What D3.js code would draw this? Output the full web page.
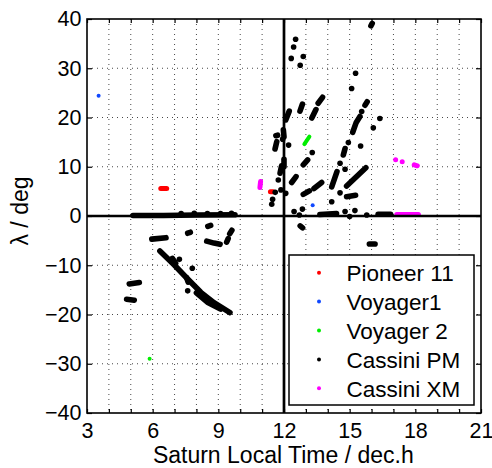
<!DOCTYPE html>
<html><head><meta charset="utf-8">
<script src="https://cdn.jsdelivr.net/npm/d3@7"></script>
<style>body{margin:0;background:#fff}</style>
</head><body><svg id="c" width="492" height="468"></svg>
<script>
// ---- data ----
const seriesNames = ["Pioneer 11", "Voyager1", "Voyager 2", "Cassini PM", "Cassini XM"];
const seriesColors = ["#ff0000", "#1048ff", "#00ee00", "#000000", "#ff00ff"];
const xTicks = [3, 6, 9, 12, 15, 18, 21];
const yTicks = [-40, -30, -20, -10, 0, 10, 20, 30, 40];

// each pass = list of [local time (h), latitude (deg)]
const pioneer11 = [[[6.37,5.6],[6.64,5.6]], [[11.38,4.9],[11.5,4.9]]];
const voyager1 = [[[3.53,24.4]], [[13.31,2.2]]];
const voyager2 = [[[5.86,-29.0]], [[12.93,14.6],[13.16,16.1]]];
const cassiniXM = [[[10.9,5.8],[10.93,7.0]], [[17.1,11.4]], [[17.4,11.0]], [[17.95,10.4],[18.09,10.2]], [[17.15,0.3],[18.14,0.3]]];
const cassiniPM = [
 [[5.1,0.1],[6.5,0.1],[8.0,0.2],[9.76,0.25]],
 [[7.3,0.5]],[[7.9,0.55]],[[8.5,0.5]],[[9.1,0.5]],[[9.6,0.55]],
 [[5.96,-4.7],[6.61,-4.4]],
 [[7.6,-3.5],[7.72,-3.3]],
 [[8.52,-2.1],[8.65,-1.9]],
 [[8.47,-5.1],[8.8,-5.5],[9.08,-5.75]],
 [[9.38,-5.3],[9.45,-4.6]],
 [[9.52,-3.6],[9.62,-2.9]],
 [[6.33,-7.1],[7.0,-10.0],[7.6,-12.8],[8.2,-15.5],[8.8,-17.6],[9.53,-19.6]],
 [[8.0,-15.6],[8.5,-17.5],[9.1,-18.9]],
 [[6.9,-8.6],[7.05,-9.6]],
 [[7.22,-8.8]],
 [[7.81,-10.6]],
 [[7.55,-12.5],[7.62,-13.4]],
 [[7.6,-15.2]],
 [[4.93,-13.8],[5.39,-13.5]],
 [[4.81,-16.9],[5.16,-17.1]],
 [[12.53,35.9]],[[12.44,34.3]],[[12.33,32.0]],[[12.88,32.4]],[[12.74,30.6]],
 [[15.97,38.6],[16.03,39.1]],
 [[15.27,29.0]],[[15.09,25.9]],
 [[13.27,19.9],[13.46,21.6]],
 [[13.56,22.9],[13.76,24.1]],
 [[12.73,21.3],[12.84,22.7]],
 [[12.08,19.5],[12.24,21.3]],
 [[11.63,16.3],[11.71,16.4]],
 [[11.59,13.6],[11.67,15.1]],
 [[11.97,17.5],[12.0,16.1]],
 [[11.94,15.6]],
 [[12.21,14.4]],
 [[13.29,12.9]],
 [[12.88,10.4],[13.08,11.4]],
 [[12.0,11.5],[12.0,10.0]],
 [[11.89,10.2],[11.82,8.7]],
 [[11.74,7.3]],
 [[12.35,6.8],[12.55,8.0]],
 [[13.37,5.6],[13.72,6.8]],
 [[12.88,4.4],[13.16,5.1]],
 [[11.86,5.3]],[[12.08,4.6]],[[11.6,4.8]],
 [[11.48,3.4]],[[11.44,2.4]],
 [[12.46,0.9]],[[12.84,1.4]],[[12.7,0.2]],
 [[12.74,-2.0],[12.85,-2.4]],
 [[13.64,0.3],[14.4,0.5]],
 [[14.18,2.9]],[[14.56,4.7]],
 [[14.18,5.9],[14.42,9.0]],
 [[14.86,6.1],[15.74,9.8]],
 [[14.86,3.9],[15.27,4.2]],
 [[14.79,9.5]],
 [[14.56,10.7]],
 [[14.71,12.4],[14.79,13.7]],
 [[14.94,14.9]],
 [[15.14,17.0],[15.3,19.0],[15.47,20.2]],
 [[15.55,21.2]],
 [[15.7,22.5],[15.8,23.2]],
 [[15.5,14.2]],[[16.08,17.9]],[[16.38,19.8]],
 [[14.79,0.9]],[[15.0,-0.1]],[[15.24,1.1]],[[15.78,0.2]],
 [[16.3,0.35],[16.87,0.35]],
 [[15.9,-5.7],[16.16,-5.7]]
];
const allSeries = [pioneer11, voyager1, voyager2, cassiniPM, cassiniXM];
const markerR = [2.5, 2.0, 2.0, 2.8, 2.5];

// ---- drawing ----
const svg = d3.select("#c");
const font = "'Liberation Sans', Arial, Helvetica, sans-serif";
const L = 87, R = 481, T = 19, B = 413;
const x = d3.scaleLinear().domain([3, 21]).range([L, R]);
const y = d3.scaleLinear().domain([-40, 40]).range([B, T]);

svg.append("rect").attr("width", 492).attr("height", 468).attr("fill", "#fff");

// grid
const grid = svg.append("g").attr("stroke", "#333").attr("stroke-width", 0.9).attr("stroke-dasharray", "1,4");
grid.selectAll("line.v").data(d3.range(4, 21)).join("line")
  .attr("x1", d => x(d)).attr("x2", d => x(d)).attr("y1", T).attr("y2", B);
grid.selectAll("line.h").data(yTicks.filter(v => v > -40 && v < 40 && v !== 0)).join("line")
  .attr("x1", L).attr("x2", R).attr("y1", d => y(d)).attr("y2", d => y(d));

// points
const line = d3.line().x(d => x(d[0])).y(d => y(d[1]));
allSeries.forEach((passes, i) => {
  const g = svg.append("g");
  passes.forEach(p => {
    if (p.length > 1) {
      g.append("path").attr("d", line(p)).attr("fill", "none")
        .attr("stroke", seriesColors[i]).attr("stroke-width", markerR[i] * 2)
        .attr("stroke-linecap", "round").attr("stroke-linejoin", "round");
    } else {
      g.append("circle").attr("cx", x(p[0][0])).attr("cy", y(p[0][1]))
        .attr("r", markerR[i]).attr("fill", seriesColors[i]);
    }
  });
});

// zero lines
svg.append("line").attr("x1", L).attr("x2", R).attr("y1", y(0)).attr("y2", y(0))
  .attr("stroke", "#000").attr("stroke-width", 2.7);
svg.append("line").attr("x1", x(12)).attr("x2", x(12)).attr("y1", T).attr("y2", B)
  .attr("stroke", "#000").attr("stroke-width", 2.7);

// axes
const minorX = d3.range(3, 22);
function styleAxis(g, size) {
  g.selectAll(".domain").remove();
  g.selectAll("line").attr("stroke", "#000").attr("stroke-width", 1.2);
  g.selectAll("text").attr("font-family", font).attr("font-size", size).attr("fill", "#000");
}
svg.append("g").attr("transform", `translate(0,${B})`)
  .call(d3.axisBottom(x).tickValues(minorX).tickSize(-4).tickPadding(10)
    .tickFormat(d => xTicks.includes(d) ? d : ""))
  .call(g => styleAxis(g, 21.5));
svg.append("g").attr("transform", `translate(0,${T})`)
  .call(d3.axisTop(x).tickValues(minorX).tickSize(-4).tickFormat(""))
  .call(g => styleAxis(g, 0));
svg.append("g").attr("transform", `translate(${L},0)`)
  .call(d3.axisLeft(y).tickValues(yTicks).tickSize(-5).tickPadding(5.5))
  .call(g => styleAxis(g, 21.5));
svg.append("g").attr("transform", `translate(${R},0)`)
  .call(d3.axisRight(y).tickValues(yTicks).tickSize(-5).tickFormat(""))
  .call(g => styleAxis(g, 0));

// frame
svg.append("rect").attr("x", L).attr("y", T).attr("width", R - L).attr("height", B - T)
  .attr("fill", "none").attr("stroke", "#000").attr("stroke-width", 1.6);

// axis labels
svg.append("text").attr("x", 283.3).attr("y", 463).attr("text-anchor", "middle")
  .attr("font-family", font).attr("font-size", 23).text("Saturn Local Time / dec.h");
svg.append("text").attr("transform", "translate(27.5,211) rotate(-90)").attr("text-anchor", "middle")
  .attr("font-family", font).attr("font-size", 23).text("λ / deg");

// legend
const lg = svg.append("g");
lg.append("rect").attr("x", 289).attr("y", 255).attr("width", 185).attr("height", 150)
  .attr("fill", "#fff").attr("stroke", "#000").attr("stroke-width", 1.5);
seriesNames.forEach((n, i) => {
  const cy = 272.7 + i * 28.9;
  lg.append("circle").attr("cx", 319).attr("cy", cy).attr("r", 2).attr("fill", seriesColors[i]);
  lg.append("text").attr("x", 346.5).attr("y", cy + 8.3).attr("font-family", font)
    .attr("font-size", 22.5).text(n);
});
</script></body></html>
